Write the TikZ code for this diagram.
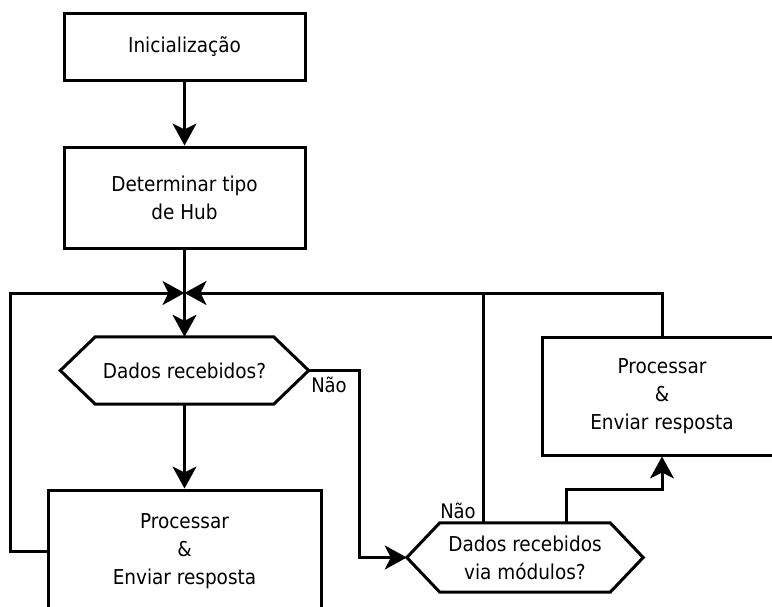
\documentclass[tikz,border=0pt]{standalone}
\usepackage{fontspec}
\setmainfont{DejaVu Sans Condensed}
\usetikzlibrary{arrows.meta}
\begin{document}
\begin{tikzpicture}[x=1pt,y=-1pt,
  flow/.style={line width=3pt, line join=miter},
  arr/.style={flow, -{Stealth[length=22pt,width=24pt,inset=6pt]}},
  txt/.style={align=center, inner sep=0pt, font=\fontsize{20.5}{28}\selectfont},
  box/.style={txt, draw, line width=3pt},
  decision/.style={txt},
  lbl/.style={inner sep=0pt, font=\fontsize{20}{22}\selectfont}]
\useasboundingbox (0,0) rectangle (772,606);
\clip (0,0) rectangle (772,606);

% process boxes
\node[box, minimum width=241pt, minimum height=67pt] (init) at (184.5,46.5) {Inicialização};
\node[box, minimum width=241pt, minimum height=101pt] (hub) at (184.5,197.5) {Determinar tipo\\de Hub};
\node[box, minimum width=273pt, minimum height=122pt] (proc1) at (184.5,551) {Processar\\\&\\Enviar resposta};
\node[box, minimum width=240pt, minimum height=118pt] (proc2) at (662,396) {Processar\\\&\\Enviar resposta};

% decisions (hexagons drawn around their text nodes)
\node[decision, minimum width=248pt, minimum height=67pt] (d1) at (184.5,370.5) {Dados recebidos?};
\draw[flow] (d1.west) -- ([xshift=35pt]d1.north west) -- ([xshift=-35pt]d1.north east)
  -- (d1.east) -- ([xshift=-35pt]d1.south east) -- ([xshift=35pt]d1.south west) -- cycle;
\node[decision, minimum width=236pt, minimum height=69pt] (d2) at (525,557.5) {Dados recebidos\\via módulos?};
\draw[flow] (d2.west) -- ([xshift=33pt]d2.north west) -- ([xshift=-33pt]d2.north east)
  -- (d2.east) -- ([xshift=-33pt]d2.south east) -- ([xshift=33pt]d2.south west) -- cycle;

\coordinate (merge) at (184.5,293);

% connectors
\draw[arr] (init) -- (hub);
\draw[arr] (hub.south) -- (d1.north);
\draw[arr] (d1.south) -- (proc1.north);
\draw[arr] (d1.east) -- ++(51,0) |- (d2.west);
\draw[arr] (proc1.west) -- ++(-36,0) |- (merge);
\draw[arr] (proc2.north) |- (merge);
\draw[flow] ([xshift=-42pt]d2.north) -- ([xshift=-42pt]d2.north |- merge);
\draw[arr] ([xshift=41pt]d2.north) -- ++(0,-33) -| (proc2.south);

% labels
\node[lbl] at (329,385) {Não};
\node[lbl] at (458,511) {Não};
\end{tikzpicture}
\end{document}
